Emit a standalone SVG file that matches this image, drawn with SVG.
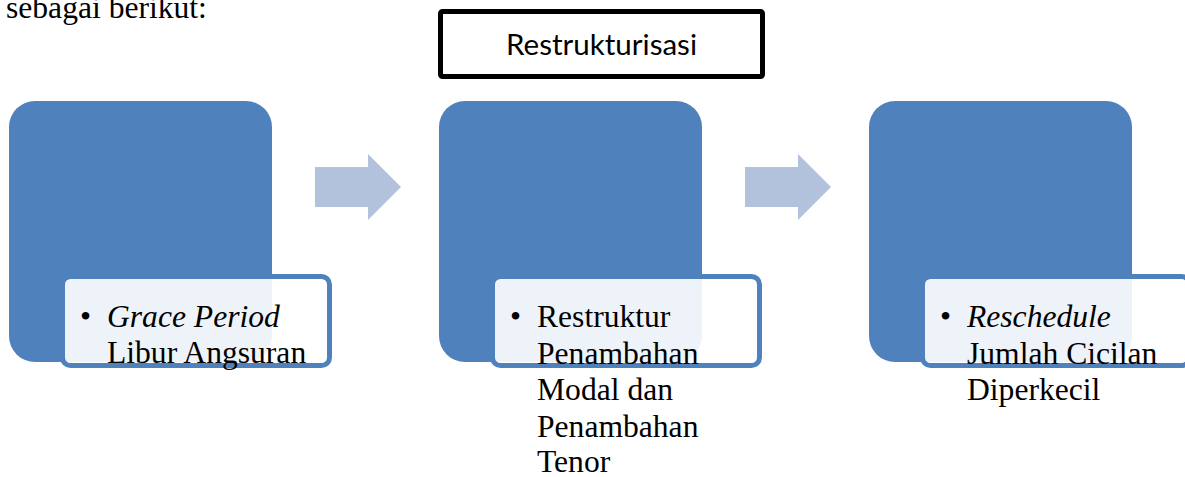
<svg xmlns="http://www.w3.org/2000/svg" width="1185" height="477" viewBox="0 0 1185 477">
<style>
.big{fill:#4f81bd;}
.inner{fill:#ffffff;fill-opacity:0.9;stroke:#4f81bd;stroke-width:5;}
.arrow{fill:#b3c2dc;}
.t{font-family:"Liberation Serif","Times New Roman",serif;font-size:31.6px;fill:#000;}
.it{font-style:italic;}
.hdr{font-family:Lato,"Open Sans",sans-serif;font-size:28px;fill:#000;}
</style>
<rect width="1185" height="477" fill="#fff"/>
<text class="t" x="6" y="17.5">sebagai berikut:</text>
<g id="header">
<rect x="440.5" y="11.5" width="322" height="65" fill="#fff" stroke="#000" stroke-width="5" rx="2"/>
<text class="hdr" x="506" y="55" textLength="191" lengthAdjust="spacingAndGlyphs">Restrukturisasi</text>
</g>
<g id="connectors">
<path class="arrow" d="M315,167 H368 V154 L401,187 L368,220 V207 H315 Z"/>
<path class="arrow" d="M745,167 H798 V154 L831,187 L798,220 V207 H745 Z"/>
</g>
<g id="node1">
<rect class="big" x="9" y="101" width="263" height="261" rx="26"/>
<rect class="inner" x="62.5" y="276.5" width="267" height="89" rx="8"/>
<text class="t" x="80" y="327">•</text>
<text class="t it" x="107" y="327">Grace Period</text>
<text class="t" x="107" y="363">Libur Angsuran</text>
</g>
<g id="node2">
<rect class="big" x="439" y="101" width="263" height="261" rx="26"/>
<rect class="inner" x="492.5" y="276.5" width="267" height="89" rx="8"/>
<text class="t" x="510" y="327">•</text>
<text class="t" x="537" y="327">Restruktur</text>
<text class="t" x="537" y="363.5">Penambahan</text>
<text class="t" x="537" y="400">Modal dan</text>
<text class="t" x="537" y="436.5">Penambahan</text>
<text class="t" x="537" y="472">Tenor</text>
</g>
<g id="node3">
<rect class="big" x="869" y="101" width="263" height="261" rx="26"/>
<rect class="inner" x="922.5" y="276.5" width="267" height="89" rx="8"/>
<text class="t" x="940" y="327">•</text>
<text class="t it" x="967" y="327">Reschedule</text>
<text class="t" x="967" y="363.5">Jumlah Cicilan</text>
<text class="t" x="967" y="400">Diperkecil</text>
</g>
</svg>
